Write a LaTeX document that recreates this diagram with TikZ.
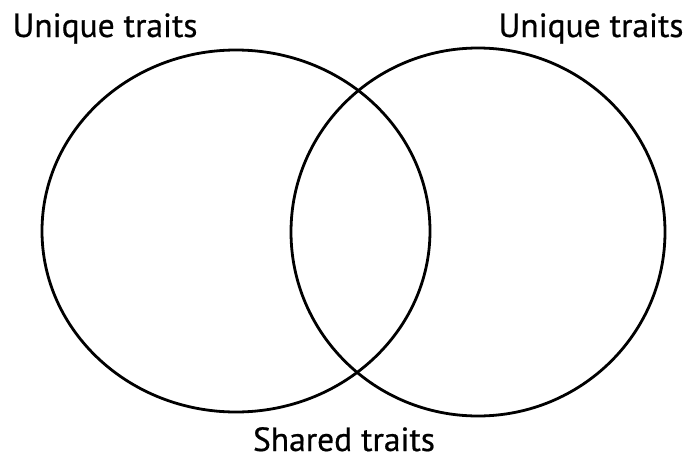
\documentclass[tikz,border=0pt]{standalone}
\usepackage{fontspec}
\setmainfont[FakeBold=0.6]{PT Sans}
\begin{document}
\begin{tikzpicture}[x=1pt,y=-1pt,
  ring/.style={draw=black,line width=2.8pt},
  lbl/.style={font=\fontsize{33.5}{38}\selectfont,inner sep=0pt,anchor=base}]
\useasboundingbox (0,0) rectangle (685,455);
\draw[ring] (236,231) ellipse [x radius=194, y radius=181];
\draw[ring] (478,232) ellipse [x radius=187, y radius=184];
\node[lbl] (uL) at (105,37) {Unique traits};
\node[lbl] (uR) at (591,37) {Unique traits};
\node[lbl] (sh) at (344,451) {Shared traits};
\end{tikzpicture}
\end{document}
